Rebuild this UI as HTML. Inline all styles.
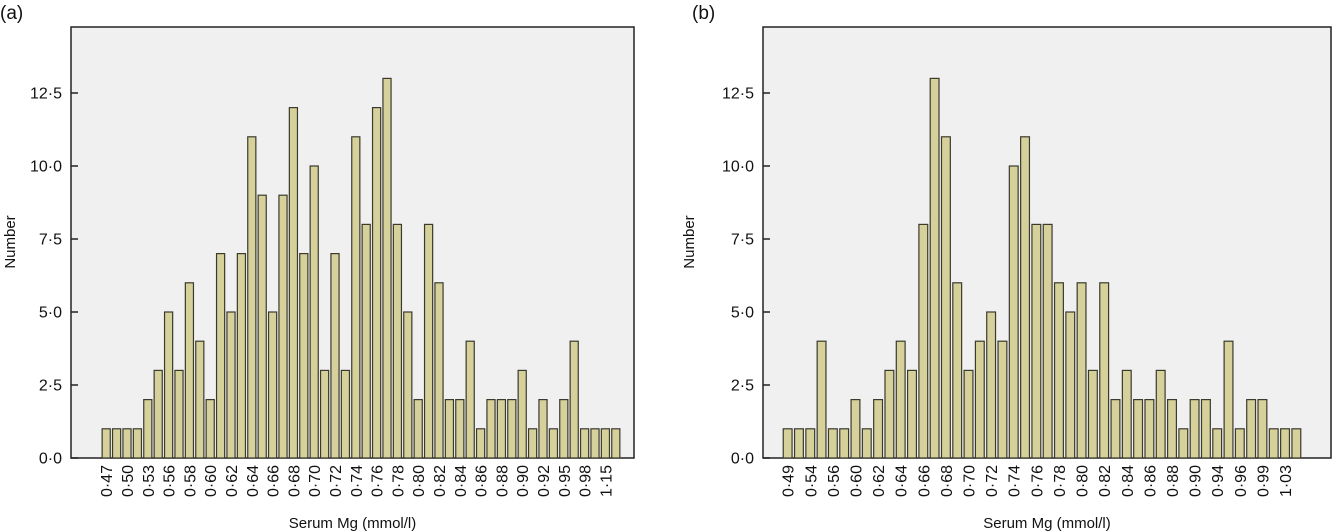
<!DOCTYPE html>
<html><head><meta charset="utf-8"><style>
body{margin:0;background:#fff;}
svg{display:block;font-family:"Liberation Sans",sans-serif;}
</style></head><body>
<svg id="c" width="1333" height="532"></svg>
<script>
const catsA=["0·47","0·50","0·53","0·56","0·58","0·60","0·62","0·64","0·66","0·68","0·70","0·72","0·74","0·76","0·78","0·80","0·82","0·84","0·86","0·88","0·90","0·92","0·95","0·98","1·15"];
const valsA=[1,1,1,1,2,3,5,3,6,4,2,7,5,7,11,9,5,9,12,7,10,3,7,3,11,8,12,13,8,5,2,8,6,2,2,4,1,2,2,2,3,1,2,1,2,4,1,1,1,1];
const catsB=["0·49","0·54","0·56","0·60","0·62","0·64","0·66","0·68","0·70","0·72","0·74","0·76","0·78","0·80","0·82","0·84","0·86","0·88","0·90","0·94","0·96","0·99","1·03"];
const valsB=[1,1,1,4,1,1,2,1,2,3,4,3,8,13,11,6,3,4,5,4,10,11,8,8,6,5,6,3,6,2,3,2,2,3,2,1,2,2,1,4,1,2,2,1,1,1];
const yTicks=[0,2.5,5,7.5,10,12.5];
const yTickLabels=["0·0","2·5","5·0","7·5","10·0","12·5"];
const NS="http://www.w3.org/2000/svg";
const svg=document.getElementById('c');
function mk(t,a,p){const e=document.createElementNS(NS,t);for(const k in a)e.setAttribute(k,a[k]);(p||svg).appendChild(e);return e;}
function panel(tag,vals,cats,L,R,b0,b1,labelX){
  const T=27,B=458;
  const y=v=>B-v*29.2;
  const g=mk('g',{});
  
  
  const bg=mk('rect',{x:L,y:T,width:R-L,height:B-T,fill:'#f0f0f0',stroke:'#222','stroke-width':1.5},g);
  
  
  const pitch=(b1-b0)/vals.length, bw=pitch*0.78;
  const x=i=>b0+i*pitch+(pitch-bw)/2;
  vals.forEach((v,i)=>{
    const r=mk('rect',{x:x(i),y:y(v),width:bw,height:B-y(v),fill:'#d6d19a',stroke:'#3a3a2e','stroke-width':1.2},g);
    
    
  });
  yTicks.forEach((t,i)=>{
    mk('line',{x1:L,x2:L+7,y1:y(t),y2:y(t),stroke:'#222','stroke-width':1.5},g);
    const tx=mk('text',{x:L-9,y:y(t)+5.5,'text-anchor':'end','font-size':16,fill:'#111'},g);
    tx.textContent=yTickLabels[i];
    
    
  });
  cats.forEach((c,j)=>{
    const cx=x(j*2)+bw/2+6;
    const tx=mk('text',{x:cx,y:465,'text-anchor':'end','font-size':16,fill:'#111',transform:`rotate(-90 ${cx} 465)`},g);
    tx.textContent=c;
    
    
  });
  const xl=mk('text',{x:(L+R)/2,y:528,'text-anchor':'middle','font-size':15,fill:'#111'},g);
  xl.textContent='Serum Mg (mmol/l)';
  
  
  const yl=mk('text',{x:labelX,y:242,'text-anchor':'middle','font-size':15,fill:'#111',transform:`rotate(-90 ${labelX} 242)`},g);
  yl.textContent='Number';
  
  
  const pl=mk('text',{x:L-71,y:19,'font-size':19,fill:'#111'},g);
  pl.textContent='('+tag+')';
  
  
}
panel('a',valsA,catsA,71,634,101,621,15);
panel('b',valsB,catsB,763,1331,782,1302,694);
</script>
</body></html>
